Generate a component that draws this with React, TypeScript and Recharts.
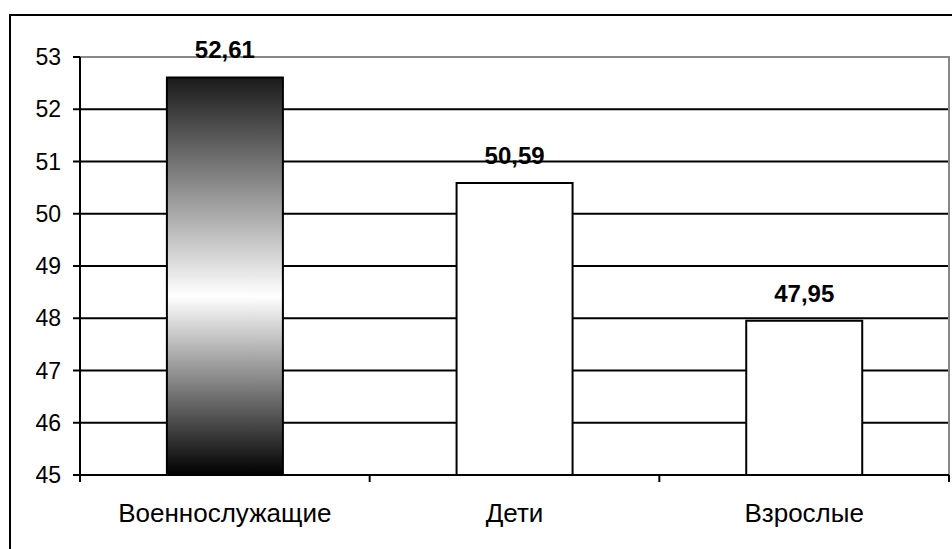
import React from 'react';
import { BarChart, Bar, XAxis, YAxis, CartesianGrid, Cell, LabelList, ReferenceLine, ReferenceArea } from 'recharts';

const categories = ['Военнослужащие', 'Дети', 'Взрослые'];
const values = [52.61, 50.59, 47.95];
const yTicks = [45, 46, 47, 48, 49, 50, 51, 52, 53];
const fills = ['url(#barGrad)', '#ffffff', '#ffffff'];

const data = categories.map((name, i) => ({ name, value: values[i] }));

const FONT = '"Liberation Sans", Arial, sans-serif';

const CategoryTick = (props: any) => {
  const { x, y, payload, index, width, visibleTicksCount } = props;
  const band = width / visibleTicksCount;
  return (
    <g>
      {index === 0 && <line x1={x - band / 2} x2={x - band / 2} y1={475} y2={482} stroke="#000" strokeWidth={2} />}
      <line x1={x + band / 2} x2={x + band / 2} y1={475} y2={482} stroke="#000" strokeWidth={2} />
      <text x={x} y={y + 39} textAnchor="middle" fontSize={26} fontFamily={FONT} fill="#000">
        {payload.value}
      </text>
    </g>
  );
};

export default function App() {
  return (
    <div style={{ position: 'fixed', top: 0, left: 0, width: 952, height: 549, overflow: 'hidden', background: '#fff' }}>
      <div style={{ position: 'absolute', left: 9, top: 14, width: 980, height: 600, border: '2px solid #000', boxSizing: 'border-box' }} />
      <div style={{ position: 'absolute', left: 0, top: 0 }}>
        <BarChart
          width={952}
          height={549}
          data={data}
          margin={{ top: 57, right: 3, bottom: 34, left: 0 }}
          barCategoryGap="30%"
        >
          <defs>
            <linearGradient id="barGrad" x1="0" y1="0" x2="0" y2="1">
              <stop offset="0%" stopColor="#1a1a1a" />
              <stop offset="55%" stopColor="#ffffff" />
              <stop offset="100%" stopColor="#000000" />
            </linearGradient>
          </defs>
          <ReferenceArea y1={45} y2={53} fill="none" stroke="#888" strokeWidth={2} ifOverflow="extendDomain" />
          <CartesianGrid vertical={false} stroke="#000" strokeWidth={2} />
          <ReferenceLine y={53} stroke="#888" strokeWidth={2} />
          <XAxis
            dataKey="name"
            height={40}
            axisLine={{ stroke: '#000', strokeWidth: 2 }}
            tickLine={false}
            tick={<CategoryTick />}
            interval={0}
          />
          <YAxis
            domain={[45, 53]}
            ticks={yTicks}
            width={80}
            axisLine={{ stroke: '#000', strokeWidth: 2 }}
            tickLine={{ stroke: '#000', strokeWidth: 2 }}
            tickSize={7}
            tickMargin={12}
            tick={{ fontSize: 23, fill: '#000', fontFamily: FONT }}
            allowDataOverflow
          />
          <Bar dataKey="value" stroke="#000" strokeWidth={2} isAnimationActive={false}>
            {data.map((d, i) => (
              <Cell key={d.name} fill={fills[i]} />
            ))}
            <LabelList
              dataKey="value"
              position="top"
              offset={19}
              formatter={(v: any) => Number(v).toFixed(2).replace('.', ',')}
              style={{ fontSize: 24, fontWeight: 'bold', fill: '#000', fontFamily: FONT }}
            />
          </Bar>
        </BarChart>
      </div>
    </div>
  );
}
